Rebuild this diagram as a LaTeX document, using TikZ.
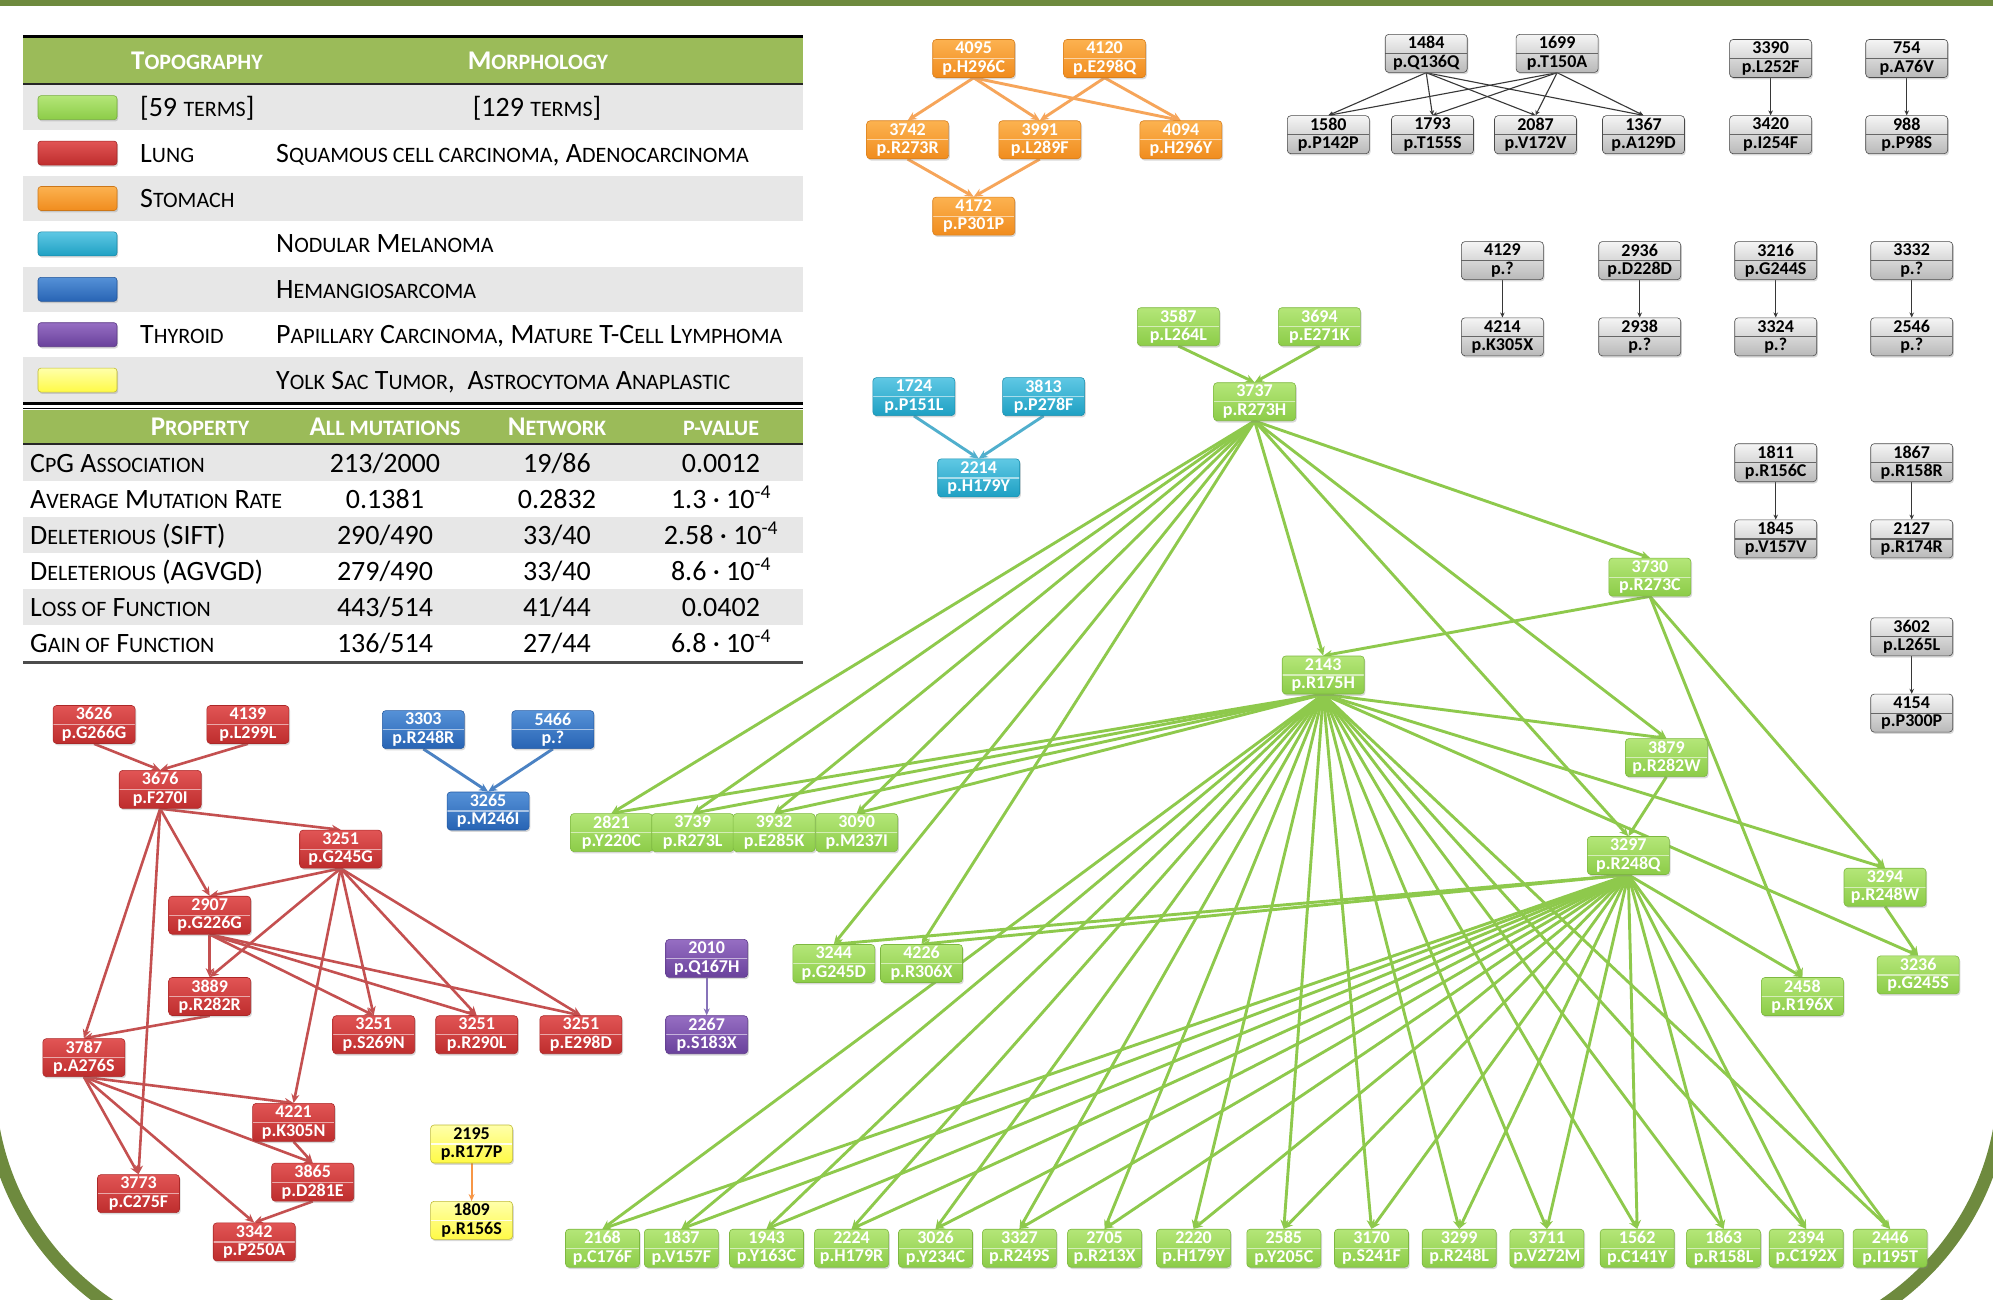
\documentclass[tikz,border=0pt]{standalone}
\usepackage{fontspec}
\setmainfont{Carlito}
\usetikzlibrary{arrows.meta,shadows}
\pgfdeclarelayer{bglayer}
\pgfdeclarelayer{edgelayer}
\pgfsetlayers{bglayer,edgelayer,main}

\definecolor{frameolive}{RGB}{110,138,62}
\definecolor{hdrgreen}{RGB}{155,187,89}
\definecolor{rowgrey}{RGB}{231,231,231}
\definecolor{GnT}{RGB}{180,230,120}\definecolor{GnB}{RGB}{140,204,72}
\definecolor{OrT}{RGB}{252,178,80}\definecolor{OrB}{RGB}{240,140,30}
\definecolor{RdT}{RGB}{225,85,85}\definecolor{RdB}{RGB}{190,45,45}
\definecolor{CyT}{RGB}{95,200,228}\definecolor{CyB}{RGB}{30,160,195}
\definecolor{BlT}{RGB}{85,145,215}\definecolor{BlB}{RGB}{40,100,180}
\definecolor{PuT}{RGB}{150,110,195}\definecolor{PuB}{RGB}{105,65,155}
\definecolor{YeT}{RGB}{255,255,170}\definecolor{YeB}{RGB}{255,250,70}
\definecolor{GyT}{RGB}{245,245,245}\definecolor{GyB}{RGB}{185,185,185}
\definecolor{GnE}{RGB}{142,201,76}
\definecolor{OrE}{RGB}{246,165,90}
\definecolor{RdE}{RGB}{196,80,80}
\definecolor{BlE}{RGB}{75,130,195}
\definecolor{CyE}{RGB}{80,175,205}
\definecolor{PuE}{RGB}{135,115,185}
\definecolor{YeE}{RGB}{247,150,70}
\definecolor{GyE}{RGB}{55,55,55}

\newcommand\nodefont{\bfseries\fontsize{18}{18.5}\selectfont}
\newcommand\tabfont{\fontsize{28}{30}\selectfont}
\newcommand\hdrfont{\bfseries\fontsize{27}{29}\selectfont}
\newcommand\smk[1]{{\fontsize{22}{22}\selectfont #1}}

\tikzset{
  nbase/.style={rectangle, rounded corners=3.5pt, minimum width=82pt, minimum height=38pt,
    inner xsep=2pt, inner ysep=1pt, align=center, font=\nodefont, text=white, line width=0.6pt,
    drop shadow={shadow xshift=1.2pt, shadow yshift=-1.8pt, opacity=0.3},
    path picture={\draw[#1, line width=1.2pt] (path picture bounding box.west) -- (path picture bounding box.east);}},
  gnode/.style={nbase={white,opacity=0.55}, top color=GnT, bottom color=GnB, draw=GnB!90!black},
  bnode/.style={gnode, minimum width=74pt},
  onode/.style={nbase={white,opacity=0.55}, top color=OrT, bottom color=OrB, draw=OrB!90!black},
  rnode/.style={nbase={white,opacity=0.55}, top color=RdT, bottom color=RdB, draw=RdB!90!black},
  cnode/.style={nbase={white,opacity=0.55}, top color=CyT, bottom color=CyB, draw=CyB!90!black},
  blnode/.style={nbase={white,opacity=0.55}, top color=BlT, bottom color=BlB, draw=BlB!90!black},
  pnode/.style={nbase={white,opacity=0.55}, top color=PuT, bottom color=PuB, draw=PuB!90!black},
  ynode/.style={nbase={white,opacity=0.85}, top color=YeT, bottom color=YeB, draw=YeB!75!black, text=black},
  knode/.style={nbase={GyE,opacity=0.7}, top color=GyT, bottom color=GyB, draw=GyE!90, text=black},
  swatch/.style={rectangle, rounded corners=3pt, minimum width=79pt, minimum height=24pt, inner sep=0pt,
    line width=0.6pt, drop shadow={shadow xshift=1.2pt, shadow yshift=-1.8pt, opacity=0.3}},
  tl/.style={inner sep=0pt, font=\tabfont, anchor=base west},
  tc/.style={inner sep=0pt, font=\tabfont, anchor=base},
  th/.style={inner sep=0pt, font=\hdrfont, text=white, anchor=base},
  edgeg/.style={draw=GnE, line width=2.9pt, -{Stealth[length=9pt,width=8pt]}},
  edgeo/.style={draw=OrE, line width=2.9pt, -{Stealth[length=9pt,width=8pt]}},
  edger/.style={draw=RdE, line width=2.6pt, -{Stealth[length=9pt,width=8pt]}},
  edgeb/.style={draw=BlE, line width=2.9pt, -{Stealth[length=9pt,width=8pt]}},
  edgec/.style={draw=CyE, line width=2.9pt, -{Stealth[length=9pt,width=8pt]}},
  edgep/.style={draw=PuE, line width=2.2pt, -{Stealth[length=7pt,width=6pt]}},
  edgey/.style={draw=YeE, line width=2.2pt, -{Stealth[length=7pt,width=6pt]}},
  edgek/.style={draw=GyE, line width=1.1pt, -{Stealth[length=5pt,width=4.5pt]}},
}

\begin{document}
\begin{tikzpicture}[x=1pt,y=-1pt]
\useasboundingbox (0,0) rectangle (1993,1300);
\clip (0,0) rectangle (1993,1300);
\begin{pgfonlayer}{bglayer}
\fill[white] (0,0) rectangle (1993,1300);
\end{pgfonlayer}

% frame
\fill[frameolive] (0,0) rectangle (1993,6);
\draw[frameolive, line width=13pt] (-8.4,1117.7) arc[start angle=172, end angle=105, radius=271];
\draw[frameolive, line width=13pt] (2001.4,1117.7) arc[start angle=8, end angle=75, radius=271];

% ---------------- table ----------------
\fill[hdrgreen] (23,38) rectangle (803,83);
\fill[rowgrey] (23,85) rectangle (803,130.4);
\fill[rowgrey] (23,175.8) rectangle (803,221.2);
\fill[rowgrey] (23,266.6) rectangle (803,312);
\fill[rowgrey] (23,357.4) rectangle (803,402.5);
\draw[black, line width=3pt] (23,37) -- (803,37);
\draw[black!85, line width=2pt] (23,84) -- (803,84);
\draw[black, line width=2.5pt] (23,403.5) -- (803,403.5);
\draw[black, line width=1.8pt] (23,408.5) -- (803,408.5);
\fill[hdrgreen] (23,410) rectangle (803,443);
\draw[black!85, line width=2pt] (23,444) -- (803,444);
\fill[rowgrey] (23,445) rectangle (803,481);
\fill[rowgrey] (23,517) rectangle (803,553);
\fill[rowgrey] (23,589) rectangle (803,625);
\draw[black!70, line width=3pt] (23,662.5) -- (803,662.5);

\node[th] (htopo) at (197,69.5) {T\smk{OPOGRAPHY}};
\node[th] (hmorph) at (538,69.5) {M\smk{ORPHOLOGY}};

\node[swatch, top color=GnT, bottom color=GnB, draw=GnB!85!black] (sw0) at (77.5,107.7) {};
\node[swatch, top color=RdT, bottom color=RdB, draw=RdB!85!black] (sw1) at (77.5,153.1) {};
\node[swatch, top color=OrT, bottom color=OrB, draw=OrB!85!black] (sw2) at (77.5,198.5) {};
\node[swatch, top color=CyT, bottom color=CyB, draw=CyB!85!black] (sw3) at (77.5,243.9) {};
\node[swatch, top color=BlT, bottom color=BlB, draw=BlB!85!black] (sw4) at (77.5,289.3) {};
\node[swatch, top color=PuT, bottom color=PuB, draw=PuB!85!black] (sw5) at (77.5,334.7) {};
\node[swatch, top color=YeT, bottom color=YeB, draw=YeB!75!black] (sw6) at (77.5,380.1) {};

\node[tl] (l0a) at (140,116.7) {[59 \smk{TERMS}]};
\node[tc] (l0b) at (537,116.7) {[129 \smk{TERMS}]};
\node[tl] (l1a) at (140,162.1) {L\smk{UNG}};
\node[tl] (l1b) at (276,162.1) {S\smk{QUAMOUS CELL CARCINOMA}, A\smk{DENOCARCINOMA}};
\node[tl] (l2a) at (140,207.5) {S\smk{TOMACH}};
\node[tl] (l3b) at (276,252.9) {N\smk{ODULAR} M\smk{ELANOMA}};
\node[tl] (l4b) at (276,298.3) {H\smk{EMANGIOSARCOMA}};
\node[tl] (l5a) at (140,343.7) {T\smk{HYROID}};
\node[tl] (l5b) at (276,343.7) {P\smk{APILLARY} C\smk{ARCINOMA}, M\smk{ATURE} T-C\smk{ELL} L\smk{YMPHOMA}};
\node[tl] (l6b) at (276,389.1) {Y\smk{OLK} S\smk{AC} T\smk{UMOR},\ \ A\smk{STROCYTOMA} A\smk{NAPLASTIC}};

\node[th] (hprop) at (200,435.5) {P\smk{ROPERTY}};
\node[th] (hall) at (385,435.5) {A\smk{LL MUTATIONS}};
\node[th] (hnet) at (557,435.5) {N\smk{ETWORK}};
\node[th] (hpv) at (721,435.5) {\smk{P-VALUE}};

\node[tl] (p1a) at (30,472) {C\smk{P}G A\smk{SSOCIATION}};
\node[tc] (p1b) at (385,472) {213/2000};
\node[tc] (p1c) at (557,472) {19/86};
\node[tc] (p1d) at (721,472) {0.0012};
\node[tl] (p2a) at (30,508) {A\smk{VERAGE} M\smk{UTATION} R\smk{ATE}};
\node[tc] (p2b) at (385,508) {0.1381};
\node[tc] (p2c) at (557,508) {0.2832};
\node[tc] (p2d) at (721,508) {1.3 · 10\textsuperscript{-4}};
\node[tl] (p3a) at (30,544) {D\smk{ELETERIOUS} (SIFT)};
\node[tc] (p3b) at (385,544) {290/490};
\node[tc] (p3c) at (557,544) {33/40};
\node[tc] (p3d) at (721,544) {2.58 · 10\textsuperscript{-4}};
\node[tl] (p4a) at (30,580) {D\smk{ELETERIOUS} (AGVGD)};
\node[tc] (p4b) at (385,580) {279/490};
\node[tc] (p4c) at (557,580) {33/40};
\node[tc] (p4d) at (721,580) {8.6 · 10\textsuperscript{-4}};
\node[tl] (p5a) at (30,616) {L\smk{OSS OF} F\smk{UNCTION}};
\node[tc] (p5b) at (385,616) {443/514};
\node[tc] (p5c) at (557,616) {41/44};
\node[tc] (p5d) at (721,616) {0.0402};
\node[tl] (p6a) at (30,652) {G\smk{AIN OF} F\smk{UNCTION}};
\node[tc] (p6b) at (385,652) {136/514};
\node[tc] (p6c) at (557,652) {27/44};
\node[tc] (p6d) at (721,652) {6.8 · 10\textsuperscript{-4}};

% ---------------- orange ----------------
\node[onode] (o4095) at (973.7,58.5) {4095\\p.H296C};
\node[onode] (o4120) at (1104.6,58.5) {4120\\p.E298Q};
\node[onode] (o3742) at (907.6,139.8) {3742\\p.R273R};
\node[onode] (o3991) at (1039.8,139.8) {3991\\p.L289F};
\node[onode] (o4094) at (1180.9,139.8) {4094\\p.H296Y};
\node[onode] (o4172) at (973.7,216.1) {4172\\p.P301P};

% ---------------- grey ----------------
\node[knode] (k1484) at (1426.2,53.4) {1484\\p.Q136Q};
\node[knode] (k1699) at (1557.1,53.4) {1699\\p.T150A};
\node[knode] (k1580) at (1328.3,134.7) {1580\\p.P142P};
\node[knode] (k1793) at (1432.5,134.7) {1793\\p.T155S};
\node[knode] (k2087) at (1535.5,134.7) {2087\\p.V172V};
\node[knode] (k1367) at (1643.5,134.7) {1367\\p.A129D};
\node[knode] (k3390) at (1770.6,58.5) {3390\\p.L252F};
\node[knode] (k3420) at (1770.6,134.7) {3420\\p.I254F};
\node[knode] (k754) at (1906.7,58.5) {754\\p.A76V};
\node[knode] (k988) at (1906.7,134.7) {988\\p.P98S};
\node[knode] (k4129) at (1502.4,260.6) {4129\\p.?};
\node[knode] (k4214) at (1502.4,336.8) {4214\\p.K305X};
\node[knode] (k2936) at (1639.7,260.6) {2936\\p.D228D};
\node[knode] (k2938) at (1639.7,336.8) {2938\\p.?};
\node[knode] (k3216) at (1775.7,260.6) {3216\\p.G244S};
\node[knode] (k3324) at (1775.7,336.8) {3324\\p.?};
\node[knode] (k3332) at (1911.7,260.6) {3332\\p.?};
\node[knode] (k2546) at (1911.7,336.8) {2546\\p.?};
\node[knode] (k1811) at (1775.7,462.7) {1811\\p.R156C};
\node[knode] (k1845) at (1775.7,538.9) {1845\\p.V157V};
\node[knode] (k1867) at (1911.7,462.7) {1867\\p.R158R};
\node[knode] (k2127) at (1911.7,538.9) {2127\\p.R174R};
\node[knode] (k3602) at (1911.7,636.8) {3602\\p.L265L};
\node[knode] (k4154) at (1911.7,713.1) {4154\\p.P300P};

% ---------------- cyan / blue / purple / yellow ----------------
\node[cnode] (c1724) at (913.9,396.6) {1724\\p.P151L};
\node[cnode] (c3813) at (1043.6,396.6) {3813\\p.P278F};
\node[cnode] (c2214) at (978.7,477.9) {2214\\p.H179Y};
\node[blnode] (b3303) at (423.3,729.6) {3303\\p.R248R};
\node[blnode] (b5466) at (552.9,729.6) {5466\\p.?};
\node[blnode] (b3265) at (488.1,811.0) {3265\\p.M246I};
\node[pnode] (p2010) at (706.7,958.4) {2010\\p.Q167H};
\node[pnode] (p2267) at (706.7,1034.7) {2267\\p.S183X};
\node[ynode] (y2195) at (471.6,1144.0) {2195\\p.R177P};
\node[ynode] (y1809) at (471.6,1220.3) {1809\\p.R156S};

% ---------------- red ----------------
\node[rnode] (r3626) at (94.1,724.5) {3626\\p.G266G};
\node[rnode] (r4139) at (247.9,724.5) {4139\\p.L299L};
\node[rnode] (r3676) at (160.2,789.4) {3676\\p.F270I};
\node[rnode] (r3251a) at (340.7,849.1) {3251\\p.G245G};
\node[rnode] (r2907) at (209.7,915.2) {2907\\p.G226G};
\node[rnode] (r3889) at (209.7,996.5) {3889\\p.R282R};
\node[rnode] (r3251b) at (373.7,1034.7) {3251\\p.S269N};
\node[rnode] (r3251c) at (476.7,1034.7) {3251\\p.R290L};
\node[rnode] (r3251d) at (580.9,1034.7) {3251\\p.E298D};
\node[rnode] (r3787) at (83.9,1057.6) {3787\\p.A276S};
\node[rnode] (r4221) at (293.6,1122.4) {4221\\p.K305N};
\node[rnode] (r3865) at (312.7,1182.1) {3865\\p.D281E};
\node[rnode] (r3773) at (138.5,1193.6) {3773\\p.C275F};
\node[rnode] (r3342) at (254.2,1241.9) {3342\\p.P250A};

% ---------------- green ----------------
\node[gnode] (g3587) at (1178.3,326.7) {3587\\p.L264L};
\node[gnode] (g3694) at (1319.4,326.7) {3694\\p.E271K};
\node[gnode] (g3737) at (1254.6,401.7) {3737\\p.R273H};
\node[gnode] (g3730) at (1649.9,577.1) {3730\\p.R273C};
\node[gnode] (g2143) at (1323.2,675.0) {2143\\p.R175H};
\node[gnode] (g3879) at (1666.4,757.6) {3879\\p.R282W};
\node[gnode] (g3297) at (1628.3,855.5) {3297\\p.R248Q};
\node[gnode] (g3294) at (1885.0,887.2) {3294\\p.R248W};
\node[gnode] (g3236) at (1918.1,974.9) {3236\\p.G245S};
\node[gnode] (g2458) at (1802.4,996.5) {2458\\p.R196X};
\node[gnode] (g2821) at (611.4,832.6) {2821\\p.Y220C};
\node[gnode] (g3739) at (692.7,832.6) {3739\\p.R273L};
\node[gnode] (g3932) at (774.1,832.6) {3932\\p.E285K};
\node[gnode] (g3090) at (856.7,832.6) {3090\\p.M237I};
\node[gnode] (g3244) at (833.8,963.5) {3244\\p.G245D};
\node[gnode] (g4226) at (921.5,963.5) {4226\\p.R306X};
\node[bnode] (g2168) at (602.5,1248.2) {2168\\p.C176F};
\node[bnode] (g1837) at (681.3,1248.2) {1837\\p.V157F};
\node[bnode] (g1943) at (766.5,1248.2) {1943\\p.Y163C};
\node[bnode] (g2224) at (851.6,1248.2) {2224\\p.H179R};
\node[bnode] (g3026) at (935.5,1248.2) {3026\\p.Y234C};
\node[bnode] (g3327) at (1019.4,1248.2) {3327\\p.R249S};
\node[bnode] (g2705) at (1104.6,1248.2) {2705\\p.R213X};
\node[bnode] (g2220) at (1193.6,1248.2) {2220\\p.H179Y};
\node[bnode] (g2585) at (1283.8,1248.2) {2585\\p.Y205C};
\node[bnode] (g3170) at (1371.5,1248.2) {3170\\p.S241F};
\node[bnode] (g3299) at (1459.2,1248.2) {3299\\p.R248L};
\node[bnode] (g3711) at (1546.9,1248.2) {3711\\p.V272M};
\node[bnode] (g1562) at (1637.2,1248.2) {1562\\p.C141Y};
\node[bnode] (g1863) at (1723.6,1248.2) {1863\\p.R158L};
\node[bnode] (g2394) at (1806.2,1248.2) {2394\\p.C192X};
\node[bnode] (g2446) at (1890.1,1248.2) {2446\\p.I195T};

% ---------------- edges ----------------
\begin{pgfonlayer}{edgelayer}
\foreach \s/\t in {o4095/o3742, o4095/o3991, o4095/o4094, o4120/o3991, o4120/o4094, o3742/o4172, o3991/o4172}
  \draw[edgeo] (\s.south) -- (\t.north);
\foreach \s/\t in {k1484/k1580, k1484/k1793, k1484/k2087, k1484/k1367, k1699/k1580, k1699/k1793, k1699/k2087, k1699/k1367,
  k3390/k3420, k754/k988, k4129/k4214, k2936/k2938, k3216/k3324, k3332/k2546, k1811/k1845, k1867/k2127, k3602/k4154}
  \draw[edgek] (\s.south) -- (\t.north);
\foreach \s/\t in {c1724/c2214, c3813/c2214}
  \draw[edgec] (\s.south) -- (\t.north);
\foreach \s/\t in {b3303/b3265, b5466/b3265}
  \draw[edgeb] (\s.south) -- (\t.north);
\draw[edgep] (p2010.south) -- (p2267.north);
\draw[edgey] (y2195.south) -- (y1809.north);
\foreach \s/\t in {r3626/r3676, r4139/r3676, r3676/r3251a, r3676/r2907, r3676/r3787, r3676/r3773,
  r3251a/r2907, r3251a/r3889, r3251a/r4221, r3251a/r3251b, r3251a/r3251c, r3251a/r3251d,
  r2907/r3889, r2907/r3251b, r2907/r3251c, r2907/r3251d, r3889/r3787,
  r3787/r4221, r3787/r3865, r3787/r3773, r3787/r3342, r4221/r3865, r3865/r3342}
  \draw[edger] (\s.south) -- (\t.north);
\foreach \s/\t in {g3587/g3737, g3694/g3737,
  g3737/g2821, g3737/g3739, g3737/g3932, g3737/g3090, g3737/g3244, g3737/g4226,
  g3737/g3730, g3737/g2143, g3737/g3879, g3737/g3297,
  g3730/g2143, g3730/g2458, g3730/g3294,
  g2143/g2821, g2143/g3739, g2143/g3932, g2143/g3090, g2143/g3879, g2143/g3294, g2143/g3236,
  g3879/g3297, g3297/g3244, g3297/g4226, g3297/g2458, g3294/g3236}
  \draw[edgeg] (\s.south) -- (\t.north);
\foreach \t in {g2168,g1837,g1943,g2224,g3026,g3327,g2705,g2220,g2585,g3170,g3299,g3711,g1562,g1863,g2394,g2446}{
  \draw[edgeg] (g2143.south) -- (\t.north);
  \draw[edgeg] (g3297.south) -- (\t.north);
}
\end{pgfonlayer}
\end{tikzpicture}
\end{document}
